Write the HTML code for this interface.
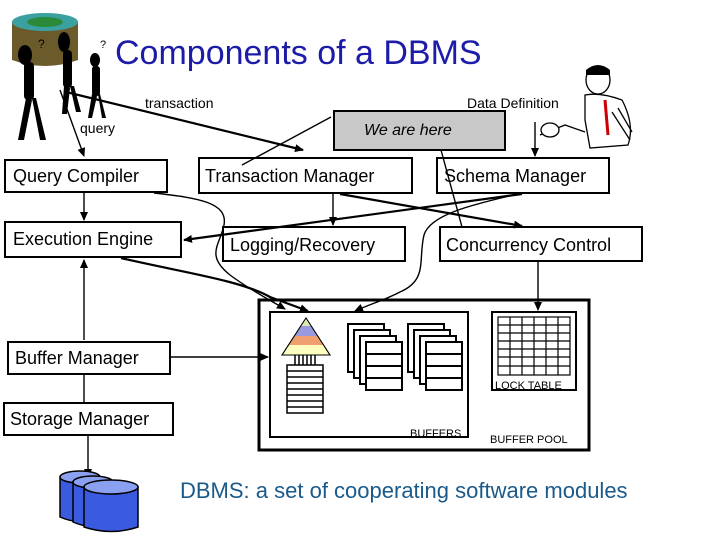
<!DOCTYPE html>
<html><head><style>
html,body{margin:0;padding:0;background:#fff;width:720px;height:540px;overflow:hidden}
svg{display:block}
.b{fill:#fff;stroke:#000;stroke-width:2}
.t{font-family:"Liberation Sans",sans-serif;font-size:18px;fill:#000}
.s{font-family:"Liberation Sans",sans-serif;font-size:14px;fill:#000}
.l{stroke:#000;stroke-width:2.2;fill:none}
.th{stroke:#000;stroke-width:1.4;fill:none}
</style></head><body>
<svg width="720" height="540" viewBox="0 0 720 540" xmlns="http://www.w3.org/2000/svg">
<defs><marker id="a" markerWidth="9" markerHeight="8" refX="8" refY="4" orient="auto" markerUnits="userSpaceOnUse"><path d="M0,0 L9,4 L0,8z" fill="#000"/></marker></defs>
<!-- top-left clipart -->
<path d="M12,22 L78,22 L78,60 Q45,72 12,60 Z" fill="#6b5a2a"/>
<ellipse cx="45" cy="22" rx="33" ry="9" fill="#3aa0a0"/>
<ellipse cx="45" cy="22" rx="18" ry="5" fill="#2a8a3a"/>
<g fill="#000">
<ellipse cx="25" cy="55" rx="7" ry="10"/><rect x="24" y="62" width="10" height="38" rx="4"/>
<path d="M26,98 L18,140 L24,140 L32,100z M32,98 L40,140 L46,140 L36,98z"/>
<ellipse cx="64" cy="42" rx="6" ry="10"/><rect x="63" y="50" width="9" height="38" rx="4"/>
<path d="M64,86 L62,114 L67,114 L70,88z M70,86 L76,112 L81,112 L74,86z"/>
<ellipse cx="95" cy="60" rx="5" ry="7"/><rect x="92" y="66" width="8" height="30" rx="3"/>
<path d="M92,94 L88,118 L92,118 L97,96z M98,94 L102,118 L106,118 L100,94z"/>
</g>
<text x="38" y="48" font-size="12" font-family="Liberation Sans">?</text>
<text x="100" y="48" font-size="11" font-family="Liberation Sans">?</text>
<!-- right clipart -->
<g stroke="#000" fill="none" stroke-width="1.3">
<ellipse cx="598" cy="80" rx="12" ry="14" fill="#fff"/>
<path d="M585,95 Q600,92 622,100 Q635,125 628,145 L590,148 L585,120z" fill="#fff"/>
<path d="M605,100 L608,135" stroke="#c00" stroke-width="3"/>
<path d="M540,135 L565,125 L585,132" />
<ellipse cx="550" cy="130" rx="9" ry="7" fill="#fff"/>
<path d="M612,112 L630,140 M618,108 L632,132"/>
</g>
<path d="M586,70 Q598,60 610,70 L610,75 L586,75z" fill="#000"/>
<text x="115" y="64" font-family="Liberation Sans" font-size="34" fill="#1c1ca8">Components of a DBMS</text>
<text x="145" y="108" class="s">transaction</text>
<text x="80" y="133" class="s">query</text>
<text x="467" y="108" class="s">Data Definition</text>
<!-- boxes -->
<rect x="5" y="160" width="162" height="32" class="b"/><text x="13" y="182" class="t">Query Compiler</text>
<rect x="199" y="158" width="213" height="35" class="b"/><text x="205" y="182" class="t">Transaction Manager</text>
<rect x="437" y="158" width="172" height="35" class="b"/><text x="444" y="182" class="t">Schema Manager</text>
<rect x="5" y="222" width="176" height="35" class="b"/><text x="13" y="245" class="t">Execution Engine</text>
<rect x="223" y="227" width="182" height="34" class="b"/><text x="230" y="251" class="t">Logging/Recovery</text>
<rect x="440" y="227" width="202" height="34" class="b"/><text x="446" y="251" class="t">Concurrency Control</text>
<rect x="8" y="342" width="162" height="32" class="b"/><text x="15" y="364" class="t">Buffer Manager</text>
<rect x="4" y="403" width="169" height="32" class="b"/><text x="10" y="425" class="t">Storage Manager</text>
<!-- buffer pool -->
<rect x="259" y="300" width="330" height="150" fill="#fff" stroke="#000" stroke-width="3"/>
<rect x="270" y="312" width="198" height="125" fill="#fff" stroke="#000" stroke-width="2"/>
<rect x="492" y="312" width="84" height="78" fill="#fff" stroke="#000" stroke-width="2"/>
<g stroke="#000" stroke-width="1.2" fill="none">
<rect x="498" y="317" width="72" height="58"/>
<path d="M498,325H570M498,333H570M498,341H570M498,349H570M498,357H570M498,366H570M510,317V375M522,317V375M534,317V375M546,317V375M558,317V375"/>
</g>
<text x="495" y="389" font-family="Liberation Sans" font-size="11">LOCK TABLE</text>
<text x="410" y="437" font-family="Liberation Sans" font-size="11">BUFFERS</text>
<text x="490" y="443" font-family="Liberation Sans" font-size="11">BUFFER POOL</text>
<polygon points="306,318 282,355 330,355" fill="#ffffc0" stroke="#000"/>
<polygon points="306,318 301,326 311,326" fill="#dde8b0"/>
<polygon points="301,326 311,326 317,336 295,336" fill="#9999dd"/>
<polygon points="295,336 317,336 323,345 289,345" fill="#f0a070"/>
<polygon points="306,318 282,355 330,355" fill="none" stroke="#000"/>
<g stroke="#000" stroke-width="1.5" fill="#fff">
<path d="M295,355V365M299,355V365M303,355V365M307,355V365M311,355V365M315,355V365"/>
<rect x="287" y="365" width="36" height="48"/>
<path d="M287,371H323M287,377H323M287,383H323M287,389H323M287,395H323M287,401H323M287,407H323" fill="none"/>
</g>
<g stroke="#000" stroke-width="2" fill="#fff">
<rect x="348" y="324" width="36" height="48"/><rect x="354" y="330" width="36" height="48"/><rect x="360" y="336" width="36" height="48"/><rect x="366" y="342" width="36" height="48"/>
<path d="M366,354H402M366,366H402M366,378H402" fill="none"/>
<rect x="408" y="324" width="36" height="48"/><rect x="414" y="330" width="36" height="48"/><rect x="420" y="336" width="36" height="48"/><rect x="426" y="342" width="36" height="48"/>
<path d="M426,354H462M426,366H462M426,378H462" fill="none"/>
</g>
<!-- we are here -->
<rect x="334" y="111" width="171" height="39" fill="#c8c8c8" stroke="#000" stroke-width="2"/>
<text x="364" y="135" font-family="Liberation Sans" font-size="16" font-style="italic">We are here</text>
<!-- connectors -->
<line x1="60" y1="90" x2="84" y2="156" class="th" marker-end="url(#a)"/>
<line x1="66" y1="92" x2="303" y2="150" class="l" marker-end="url(#a)"/>
<line x1="535" y1="122" x2="535" y2="156" class="th" marker-end="url(#a)"/>
<line x1="331" y1="117" x2="242" y2="165" class="th"/>
<line x1="441" y1="150" x2="462" y2="227" class="th"/>
<line x1="84" y1="193" x2="84" y2="220" class="th" marker-end="url(#a)"/>
<line x1="333" y1="194" x2="333" y2="225" class="th" marker-end="url(#a)"/>
<line x1="340" y1="194" x2="522" y2="226" class="l" marker-end="url(#a)"/>
<line x1="522" y1="194" x2="184" y2="240" class="l" marker-end="url(#a)"/>
<line x1="84" y1="340" x2="84" y2="260" class="th" marker-end="url(#a)"/>
<line x1="84" y1="375" x2="84" y2="402" class="th"/>
<line x1="88" y1="436" x2="88" y2="477" class="th" marker-end="url(#a)"/>
<line x1="171" y1="357" x2="268" y2="357" class="th" marker-end="url(#a)"/>
<line x1="538" y1="262" x2="538" y2="310" class="th" marker-end="url(#a)"/>
<path d="M154,193 C200,198 228,203 224,225 C220,245 205,255 230,275 C250,290 270,300 285,309" class="th" marker-end="url(#a)"/>
<path d="M121,258 C180,272 240,280 270,297 L308,311" class="l" marker-end="url(#a)"/>
<path d="M518,194 C470,205 430,215 424,235 C418,260 428,280 400,292 C385,300 370,304 355,311" class="th" marker-end="url(#a)"/>
<!-- disks -->
<g stroke="#000" stroke-width="1.5">
<path d="M60,477 V517 Q80,526 100,517 V477z" fill="#3a5ae0"/><ellipse cx="80" cy="477" rx="20" ry="6" fill="#8aa0f0"/>
<path d="M73,482 V522 Q93,531 113,522 V482z" fill="#3a5ae0"/><ellipse cx="93" cy="482" rx="20" ry="6" fill="#8aa0f0"/>
<path d="M84,487 V527 Q111,536 138,527 V487z" fill="#3a5ae0"/><ellipse cx="111" cy="487" rx="27" ry="7" fill="#8aa0f0"/>
</g>
<text x="180" y="498" font-family="Liberation Sans" font-size="22" fill="#1a5a8a">DBMS: a set of cooperating software modules</text>
</svg>
</body></html>
